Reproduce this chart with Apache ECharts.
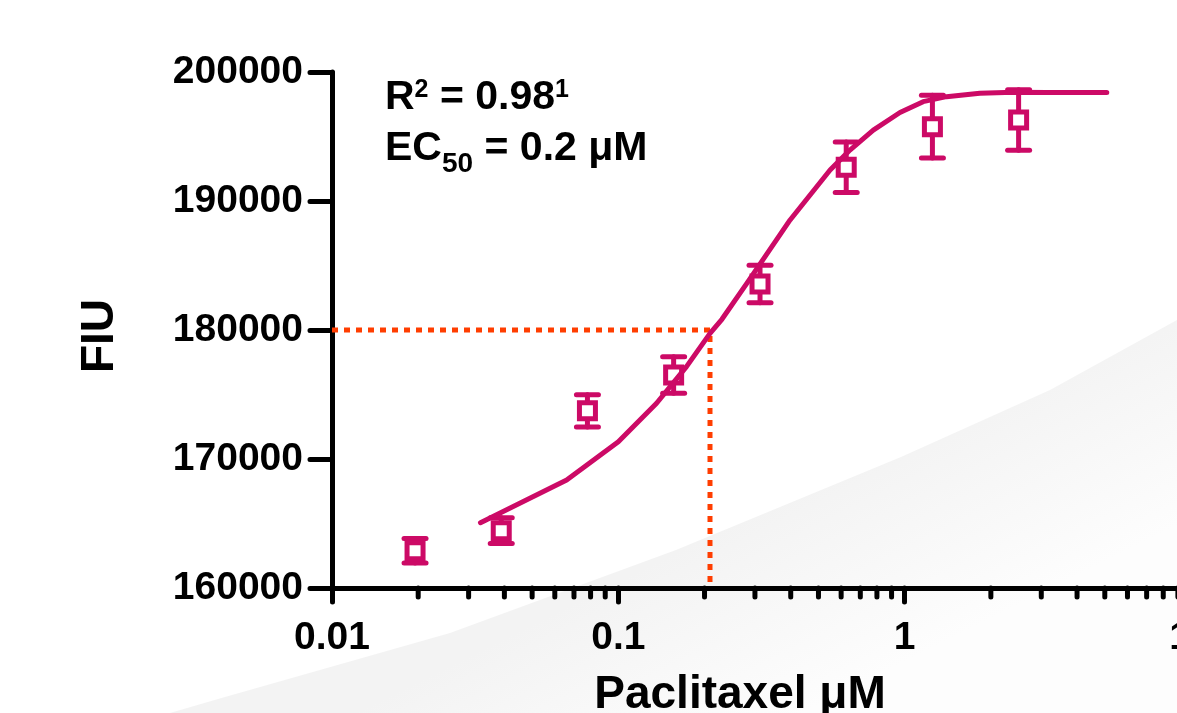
<!DOCTYPE html>
<html><head><meta charset="utf-8">
<script src="https://cdn.jsdelivr.net/npm/echarts@6/dist/echarts.min.js"></script>
<style>html,body{margin:0;padding:0;background:#fff}#c{width:1177px;height:713px}</style>
</head><body><div id="c"></div>
<script>
// ---- data ----
const concentrations = [0.0195, 0.039, 0.078, 0.156, 0.3125, 0.625, 1.25, 2.5];
const meanFIU = [162890, 164440, 173740, 176510, 183570, 192610, 195760, 196280];
const errFIU = [950, 1000, 1250, 1420, 1450, 1960, 2430, 2350];
const fitX = [0.033, 0.066, 0.1, 0.136, 0.173, 0.209, 0.23, 0.281, 0.398, 0.549, 0.644, 0.777, 0.963, 1.16, 1.4, 1.83, 2.4, 3.13, 5.08];
const fitY = [165060, 168370, 171340, 174320, 177160, 179740, 180830, 183620, 188530, 192400, 193950, 195500, 196860, 197700, 198090, 198350, 198430, 198420, 198420];
const ec50X = 0.209;
const ec50Y = 180000;
const xMajorTicks = [0.01, 0.1, 1, 10];
const xTickLabels = ['0.01', '0.1', '1', '10'];
const xMinorTicks = [0.02,0.03,0.04,0.05,0.06,0.07,0.08,0.09,0.2,0.3,0.4,0.5,0.6,0.7,0.8,0.9,2,3,4,5,6,7,8,9];
const yMin = 160000, yMax = 200000, yStep = 10000;

const MAG = '#cc0a66';
const FONT = '"Liberation Sans", Arial, sans-serif';

const chart = echarts.init(document.getElementById('c'), null, {renderer: 'canvas'});

function xLabel(v) {
  let best = 0, bd = Infinity;
  xMajorTicks.forEach((t, i) => { const d = Math.abs(Math.log10(v) - Math.log10(t)); if (d < bd) { bd = d; best = i; } });
  return xTickLabels[best];
}

const option = {
  backgroundColor: '#ffffff',
  animation: false,
  grid: {left: 332, top: 72, width: 859, height: 516, containLabel: false, outerBoundsMode: 'none'},
  xAxis: {
    type: 'log', logBase: 10, min: 0.01, max: 10,
    axisLine: {show: true, lineStyle: {color: '#000', width: 5}},
    axisTick: {show: true, length: 14, lineStyle: {color: '#000', width: 5, cap: 'round'}},
    minorTick: {show: false},
    splitLine: {show: false},
    axisLabel: {show: true, margin: 31, color: '#000', fontSize: 39, fontWeight: 'bold', fontFamily: FONT, formatter: xLabel, showMinLabel: true, showMaxLabel: true, hideOverlap: false}
  },
  yAxis: {
    type: 'value', min: yMin, max: yMax, interval: yStep,
    axisLine: {show: true, lineStyle: {color: '#000', width: 5}},
    axisTick: {show: true, length: 22, lineStyle: {color: '#000', width: 5, cap: 'round'}},
    splitLine: {show: false},
    axisLabel: {show: true, margin: 29, color: '#000', fontSize: 39, fontWeight: 'bold', fontFamily: FONT, formatter: v => String(v)}
  },
  graphic: [
    {
      type: 'polygon', z: -100, silent: true,
      shape: {points: [[170, 713], [225, 697], [450, 633], [676, 550], [901, 457], [1050, 390], [1177, 320], [1177, 713]]},
      style: {fill: new echarts.graphic.LinearGradient(700, 540, 790, 720, [{offset: 0, color: '#f3f3f3'}, {offset: 1, color: '#fdfdfd'}], true)}
    },
    {
      type: 'text', x: 100, y: 336, rotation: Math.PI / 2, z: 10,
      style: {text: 'FIU', font: 'bold 46px ' + FONT, fill: '#000', align: 'center', verticalAlign: 'middle'}
    },
    {
      type: 'text', x: 740, y: 695, z: 10,
      style: {text: 'Paclitaxel \u03bcM', font: 'bold 46px ' + FONT, fill: '#000', align: 'center', verticalAlign: 'middle'}
    },
    {
      type: 'text', x: 385, y: 77, z: 10,
      style: {
        text: '{m|R}{p|2}{m| = 0.98}{p|1}', align: 'left', verticalAlign: 'top', fill: '#000',
        rich: {
          m: {fontSize: 41, fontWeight: 'bold', fontFamily: FONT, fill: '#000', verticalAlign: 'top'},
          p: {fontSize: 25, fontWeight: 'bold', fontFamily: FONT, fill: '#000', verticalAlign: 'top', padding: [1, 0, 0, 0]}
        }
      }
    },
    {
      type: 'text', x: 385, y: 128, z: 10,
      style: {
        text: '{m|EC}{b|50}{m| = 0.2 \u03bcM}', align: 'left', verticalAlign: 'top', fill: '#000',
        rich: {
          m: {fontSize: 41, fontWeight: 'bold', fontFamily: FONT, fill: '#000', verticalAlign: 'top'},
          b: {fontSize: 28, fontWeight: 'bold', fontFamily: FONT, fill: '#000', verticalAlign: 'top', padding: [22, 0, 0, 0]}
        }
      }
    }
  ],
  series: [
    {
      type: 'custom', name: 'minorTicks', z: 5, silent: true, clip: false,
      data: xMinorTicks.map(v => [v, yMin]),
      renderItem: function (params, api) {
        const p = api.coord([api.value(0), api.value(1)]);
        return {type: 'line', shape: {x1: p[0], y1: p[1], x2: p[0], y2: p[1] + 9}, style: {stroke: '#000', lineWidth: 5, lineCap: 'round'}};
      }
    },
    {
      type: 'line', name: 'ec50', z: 1, silent: true, symbol: 'none',
      data: [[xMajorTicks[0], ec50Y], [ec50X, ec50Y], [ec50X, yMin]],
      lineStyle: {color: '#ff3d00', width: 5, type: [6, 6], cap: 'butt'}
    },
    {
      type: 'custom', name: 'errors', z: 2, silent: true,
      data: concentrations.map((c, i) => [c, meanFIU[i], errFIU[i]]),
      renderItem: function (params, api) {
        const x = api.value(0), y = api.value(1), e = api.value(2);
        const t = api.coord([x, y + e]);
        const b = api.coord([x, y - e]);
        const st = {stroke: MAG, lineWidth: 5, lineCap: 'round'};
        const hw = 11;
        return {type: 'group', children: [
          {type: 'line', shape: {x1: t[0], y1: t[1], x2: b[0], y2: b[1]}, style: st},
          {type: 'line', shape: {x1: t[0] - hw, y1: t[1], x2: t[0] + hw, y2: t[1]}, style: st},
          {type: 'line', shape: {x1: b[0] - hw, y1: b[1], x2: b[0] + hw, y2: b[1]}, style: st}
        ]};
      }
    },
    {
      type: 'scatter', name: 'mean', z: 3, silent: true,
      symbol: 'rect', symbolSize: 16,
      itemStyle: {color: '#ffffff', borderColor: MAG, borderWidth: 5, opacity: 1},
      data: concentrations.map((c, i) => [c, meanFIU[i]])
    },
    {
      type: 'line', name: 'fit', z: 4, silent: true, symbol: 'none', smooth: false,
      lineStyle: {color: MAG, width: 5, cap: 'round', join: 'round'},
      data: fitX.map((x, i) => [x, fitY[i]])
    }
  ]
};
chart.setOption(option);
</script>
</body></html>
